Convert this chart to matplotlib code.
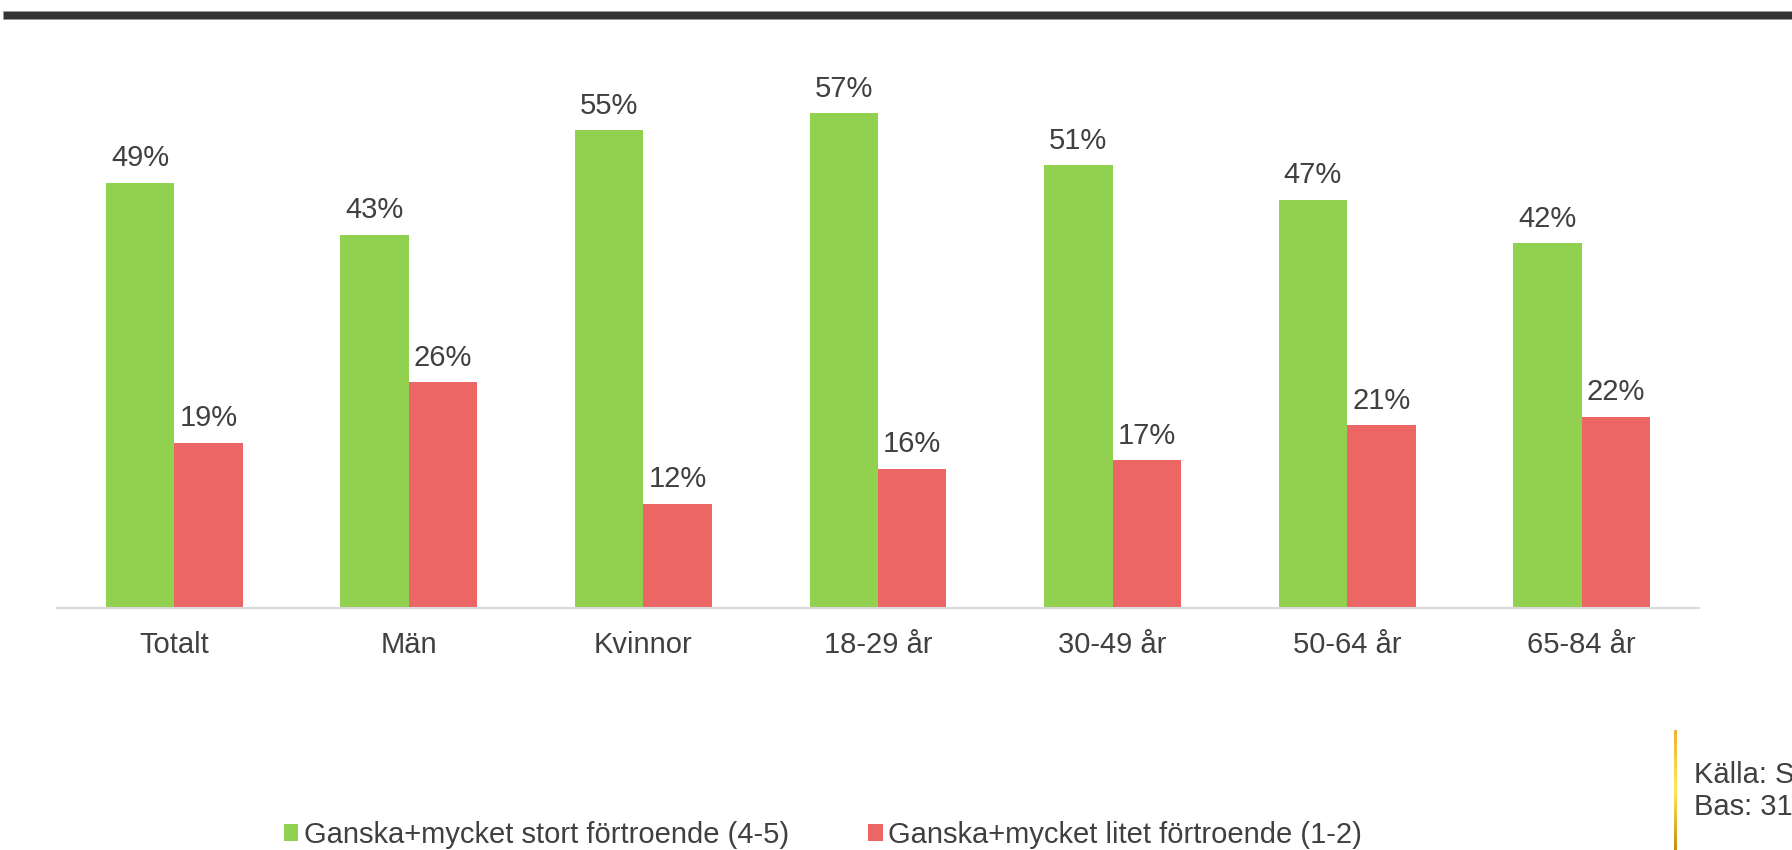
import matplotlib
matplotlib.use("Agg")
import matplotlib.pyplot as plt
import numpy as np
from matplotlib.patches import Patch, Rectangle
from matplotlib.colors import LinearSegmentedColormap

plt.rcParams["font.family"] = ["Liberation Sans", "DejaVu Sans"]

categories = ["Totalt", "Män", "Kvinnor", "18-29 år", "30-49 år", "50-64 år", "65-84 år"]
stort = [49, 43, 55, 57, 51, 47, 42]
litet = [19, 26, 12, 16, 17, 21, 22]
series_labels = ["Ganska+mycket stort förtroende (4-5)", "Ganska+mycket litet förtroende (1-2)"]
source_lines = ["Källa: S", "Bas: 31"]

GREEN = "#92D050"
RED = "#ED6666"
TEXT = "#404040"
FS = 21

W, H = 1792, 850
fig = plt.figure(figsize=(W / 100, H / 100), dpi=100)
fig.patch.set_facecolor("white")

# dark header bar
fig.patches.append(Rectangle((3 / W, 1 - 19 / H), 1, 8 / H, transform=fig.transFigure,
                             facecolor="#333333", edgecolor="#9a9a9a", linewidth=0.6))

ax = fig.add_axes([57 / W, (H - 607.7) / H, 1642 / W, 520.6 / H])
x = np.arange(len(categories))
width = 0.292
b1 = ax.bar(x - width / 2, stort, width, color=GREEN, label=series_labels[0])
b2 = ax.bar(x + width / 2, litet, width, color=RED, label=series_labels[1])

for bars in (b1, b2):
    for bar in bars:
        h = bar.get_height()
        ax.annotate(f"{h:.0f}%", xy=(bar.get_x() + bar.get_width() / 2, h),
                    xytext=(0, 7.5), textcoords="offset points",
                    ha="center", va="bottom", fontsize=FS, color=TEXT)

ax.set_xlim(-0.5, len(categories) - 0.5)
ax.set_ylim(0, 60)
ax.set_xticks(x)
ax.set_xticklabels(categories, fontsize=FS, color=TEXT)
ax.tick_params(axis="x", length=0, pad=17)
ax.set_yticks([])
for s in ("top", "right", "left"):
    ax.spines[s].set_visible(False)
ax.spines["bottom"].set_color("#D9D9D9")
ax.spines["bottom"].set_linewidth(1.5)

handles = [Patch(facecolor=GREEN, label=series_labels[0]),
           Patch(facecolor=RED, label=series_labels[1])]
fig.legend(handles=handles, loc="lower center", bbox_to_anchor=(823 / W, 1 / H),
           ncol=2, frameon=False, fontsize=FS, borderpad=0, borderaxespad=0,
           handlelength=0.5, handleheight=0.5, handletextpad=0.2, columnspacing=2.7,
           labelcolor=TEXT)

# gold gradient rule next to the source note
gold = LinearSegmentedColormap.from_list("gold", ["#F0B232", "#FFE85C", "#C78F10"])
gax = fig.add_axes([1673.5 / W, 0, 3 / W, 120 / H])
gax.imshow(np.linspace(0, 1, 100).reshape(-1, 1), aspect="auto", cmap=gold)
gax.axis("off")

fig.text(1694 / W, 1 - 783 / H, source_lines[0], fontsize=FS, color=TEXT, va="baseline")
fig.text(1694 / W, 1 - 815 / H, source_lines[1], fontsize=FS, color=TEXT, va="baseline")

fig.savefig("out.png", dpi=100)
